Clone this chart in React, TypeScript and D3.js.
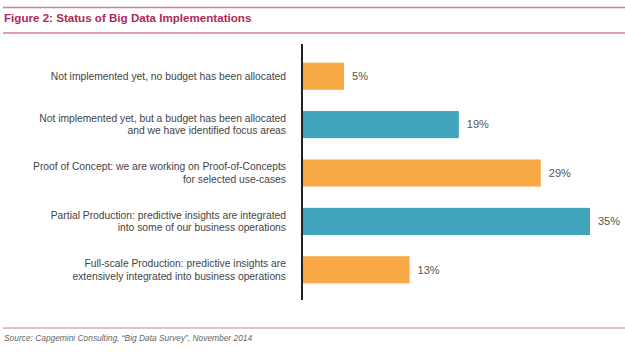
import * as d3 from 'd3';

const categories: string[][] = [
  ['Not implemented yet, no budget has been allocated'],
  ['Not implemented yet, but a budget has been allocated', 'and we have identified focus areas'],
  ['Proof of Concept: we are working on Proof-of-Concepts', 'for selected use-cases'],
  ['Partial Production: predictive insights are integrated', 'into some of our business operations'],
  ['Full-scale Production: predictive insights are', 'extensively integrated into business operations'],
];
const values = [5, 19, 29, 35, 13];
const barColors = ['#f9aa47', '#40a4bd', '#f9aa47', '#40a4bd', '#f9aa47'];

const W = 625;
const H = 360;
const axisX = 302;
const FONT = '"Liberation Sans", Arial, sans-serif';

export default function App() {
  const x = d3.scaleLinear().domain([0, 35]).range([axisX + 1, 590]);
  const y = d3.scaleBand<number>()
    .domain(values.map((_, i) => i))
    .range([52, 294])
    .paddingInner(0.44)
    .paddingOuter(0.22);

  return (
    <svg width={W} height={H} style={{ position: 'absolute', left: 0, top: 0, background: '#fff' }}>
      {/* header rules + title */}
      <line x1={3} x2={W} y1={7.5} y2={7.5} stroke="#d77d9a" strokeWidth={1.5} />
      <text x={4} y={22} fontFamily={FONT} fontSize={11.6} fontWeight="bold" fill="#b0285a">
        Figure 2: Status of Big Data Implementations
      </text>
      <line x1={3} x2={W} y1={33} y2={33} stroke="#d77d9a" strokeWidth={1.5} />

      {values.map((v, i) => {
        const y0 = y(i) ?? 0;
        const cy = y0 + y.bandwidth() / 2;
        const lines = categories[i];
        const lh = 12.5;
        return (
          <g key={i}>
            <rect x={x(0)} y={y0} width={x(v) - x(0)} height={y.bandwidth()} fill={barColors[i]} />
            <text x={x(v) + 8} y={cy} dy="0.35em" fontFamily={FONT} fontSize={11} fill="#555">
              {v}%
            </text>
            {lines.map((t, j) => (
              <text
                key={j}
                x={286}
                y={cy + (j - (lines.length - 1) / 2) * lh}
                dy="0.35em"
                textAnchor="end"
                fontFamily={FONT}
                fontSize={10.3}
                fill="#444"
              >
                {t}
              </text>
            ))}
          </g>
        );
      })}

      <line x1={axisX} x2={axisX} y1={44} y2={300} stroke="#222" strokeWidth={2} />

      {/* footer */}
      <line x1={3} x2={W} y1={328} y2={328} stroke="#d77d9a" strokeWidth={1} />
      <text x={4} y={341} fontFamily={FONT} fontSize={8.4} fontStyle="italic" fill="#666">
        Source: Capgemini Consulting, “Big Data Survey”, November 2014
      </text>
    </svg>
  );
}
